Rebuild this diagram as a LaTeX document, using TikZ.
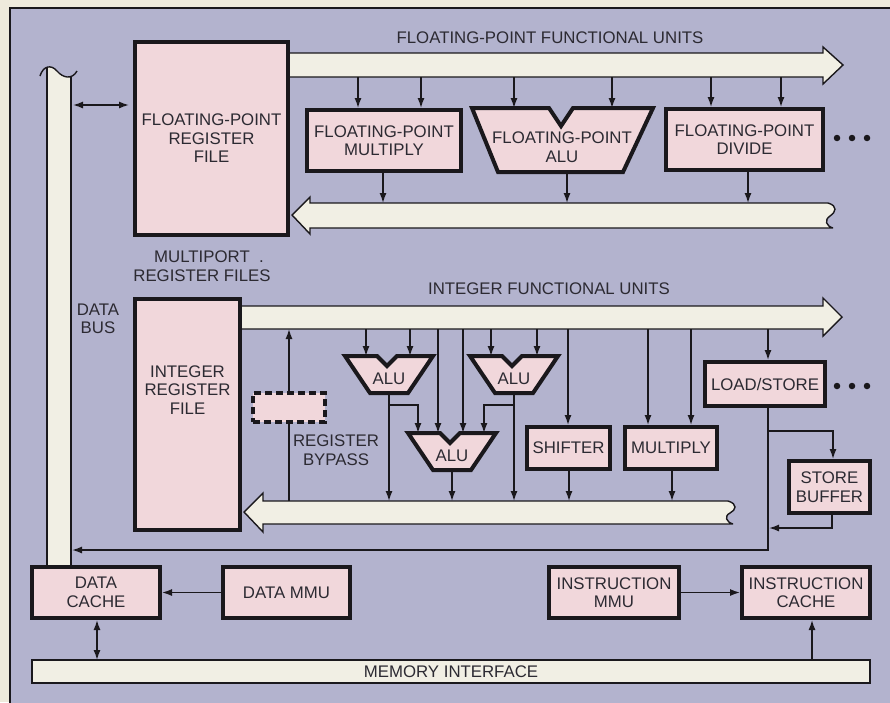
\documentclass[tikz,border=0pt]{standalone}
\usepackage{fontspec}
\setmainfont{Liberation Sans}
\usetikzlibrary{arrows.meta,calc}
\definecolor{bgc}{HTML}{EEEADC}
\definecolor{lav}{HTML}{B3B3CE}
\definecolor{pinkc}{HTML}{F1D7DB}
\definecolor{busc}{HTML}{F1EFE4}
\definecolor{linec}{HTML}{1A181C}
\definecolor{txtc}{HTML}{2C2A32}
\newcommand\lblfont{\fontsize{16.8}{18.5}\selectfont}
\begin{document}
\begin{tikzpicture}[x=1pt,y=-1pt,
  box/.style={draw=linec, line width=4pt, fill=pinkc, text=txtc, align=center, font=\lblfont, inner sep=0pt},
  lbl/.style={text=txtc, align=center, font=\lblfont, inner sep=0pt},
  bus/.style={draw=linec, line width=1.4pt, fill=busc, line join=miter},
  arr/.style={draw=linec, line width=1.4pt, -{Latex[length=10pt,width=7pt]}},
  darr/.style={draw=linec, line width=1.4pt, {Latex[length=10pt,width=7pt]}-{Latex[length=10pt,width=7pt]}},
  ln/.style={draw=linec, line width=1.4pt},
  alubox/.style={draw=linec, line width=4pt, fill=pinkc, line join=miter},
  dotc/.style={circle, fill=linec, inner sep=0pt, minimum size=6.5pt},
  alu/.pic={
    \draw[alubox] (-44,0) -- (-12,0) -- (-2,10) -- (8,0) -- (44,0) -- (19,37) -- (-19,37) -- cycle;
    \node[lbl] at (0,23) {ALU};
    \coordinate (-top) at (0,0);
    \coordinate (-bot) at (0,37);
  }]
\useasboundingbox (0,0) rectangle (890,702);
\clip (0,0) rectangle (890,702);
% background and frame
\fill[bgc] (0,0) rectangle (890,702);
\draw[line width=1.4pt, draw=linec, fill=lav] (10,8) rectangle (900,712);

% data bus (vertical)
\begin{scope}
  \clip (40,76) .. controls (43,66) and (51,64) .. (57,71) .. controls (63,78) and (72,80) .. (77,71) -- (77,580) -- (40,580) -- cycle;
  \fill[busc] (47,55) rectangle (71,566);
\end{scope}
\draw[ln] (47,67) -- (47,566);
\draw[ln] (71,77) -- (71,566);
\draw[ln] (40,76) .. controls (43,66) and (51,64) .. (57,71) .. controls (63,78) and (72,80) .. (77,71);

% floating-point buses
\draw[bus] (285,53) -- (823,53) -- (823,47) -- (843,65) -- (823,84) -- (823,77) -- (285,77);
\draw[bus] (833,228) -- (310,228) -- (310,234) -- (292,215) -- (310,197) -- (310,203) -- (828,203)
  .. controls (838,206) and (836,212) .. (830,216) .. controls (824,220) and (826,226) .. (833,228);
% integer buses
\draw[bus] (238,306) -- (823,306) -- (823,298) -- (842,317) -- (823,336) -- (823,329) -- (238,329);
\draw[bus] (733,524) -- (263,524) -- (263,532) -- (244,512) -- (263,493) -- (263,501) -- (728,501)
  .. controls (738,504) and (736,510) .. (730,513) .. controls (724,516) and (726,522) .. (733,524);

% memory interface
\node[draw=linec, line width=1.4pt, fill=busc, text=txtc, font=\lblfont, inner sep=0pt,
  minimum width=838pt, minimum height=23pt] (mem) at (451,671.5) {MEMORY INTERFACE};

% boxes
\node[box, minimum width=153pt, minimum height=193pt] (fprf) at (211.5,138.5) {FLOATING-POINT\\REGISTER\\FILE};
\node[box, minimum width=154pt, minimum height=61pt] (fpmul) at (384,140.5) {FLOATING-POINT\\MULTIPLY};
\node[box, minimum width=157pt, minimum height=61pt] (fpdiv) at (744.5,139.5) {FLOATING-POINT\\DIVIDE};
\node[box, minimum width=105pt, minimum height=231pt] (intrf) at (187.5,414.5) {};
\node[lbl] (intrftxt) at (187.5,390) {INTEGER\\REGISTER\\FILE};
\node[box, minimum width=83pt, minimum height=42pt] (shifter) at (568.5,448) {SHIFTER};
\node[box, minimum width=92pt, minimum height=42pt] (mult) at (671,448) {MULTIPLY};
\node[box, minimum width=120pt, minimum height=44pt] (ldst) at (765,384) {LOAD/STORE};
\node[box, minimum width=81pt, minimum height=52pt] (stbuf) at (829.5,487) {STORE\\BUFFER};
\node[box, minimum width=128pt, minimum height=51pt] (dcache) at (96,592.5) {DATA\\CACHE};
\node[box, minimum width=127pt, minimum height=51pt] (dmmu) at (286.5,592.5) {DATA MMU};
\node[box, minimum width=130pt, minimum height=51pt] (immu) at (614,592.5) {INSTRUCTION\\MMU};
\node[box, minimum width=128pt, minimum height=51pt] (icache) at (806,592.5) {INSTRUCTION\\CACHE};
\node[box, dashed, dash pattern=on 7pt off 4pt, minimum width=72pt, minimum height=29pt] (bypass) at (289,407.5) {};

% floating-point ALU
\draw[alubox] (472,108) -- (549,108) -- (561,126) -- (573,108) -- (653,108) -- (623,172) -- (498,172) -- cycle;
\coordinate (fpalu-top) at (562,108);
\coordinate (fpalu-bot) at (567,172);
\node[lbl] (fpalu) at (562,147) {FLOATING-POINT\\ALU};

% integer ALUs
\pic (alu1) at (389,356) {alu};
\pic (alu2) at (514,356) {alu};
\pic (alu3) at (452,433) {alu};

% labels
\node[lbl] (fptitle) at (550,38) {FLOATING-POINT FUNCTIONAL UNITS};
\node[lbl] (inttitle) at (549,289) {INTEGER FUNCTIONAL UNITS};
\node[lbl] (mptxt) at (202,266) {MULTIPORT\rlap{\ \ .}\\REGISTER FILES};
\node[lbl] (dbtxt) at (98,319) {DATA\\BUS};
\node[lbl] (bptxt) at (336,450) {REGISTER\\BYPASS};
\node[dotc] (d1) at (837,138) {};
\node[dotc] (d2) at (852,138) {};
\node[dotc] (d3) at (867,138) {};
\node[dotc] (d4) at (837,386) {};
\node[dotc] (d5) at (852,386) {};
\node[dotc] (d6) at (867,386) {};

% bus tap coordinates
\coordinate (fa1) at (358,77); \coordinate (fa2) at (421,77);
\coordinate (fa3) at (514,77); \coordinate (fa4) at (612,77);
\coordinate (fa5) at (711,77); \coordinate (fa6) at (781,77);
\coordinate (fr1) at (383,203); \coordinate (fr2) at (567,203); \coordinate (fr3) at (748,203);
\coordinate (ia1) at (366,329); \coordinate (ia2) at (410,329);
\coordinate (ia3) at (438,329); \coordinate (ia4) at (463,329);
\coordinate (ia5) at (491,329); \coordinate (ia6) at (537,329);
\coordinate (ia7) at (568,329); \coordinate (ia8) at (648,329);
\coordinate (ia9) at (691,329); \coordinate (ia10) at (768,329);
\coordinate (ir1) at (389,501); \coordinate (ir2) at (452,501); \coordinate (ir3) at (514,501);
\coordinate (ir4) at (569,501); \coordinate (ir5) at (672,501);

% FP connections
\draw[arr] (fa1) -- (fa1 |- fpmul.north);
\draw[arr] (fa2) -- (fa2 |- fpmul.north);
\draw[arr] (fa3) -- (fa3 |- fpalu-top);
\draw[arr] (fa4) -- (fa4 |- fpalu-top);
\draw[arr] (fa5) -- (fa5 |- fpdiv.north);
\draw[arr] (fa6) -- (fa6 |- fpdiv.north);
\draw[arr] (fpmul.south -| fr1) -- (fr1);
\draw[arr] (fpalu-bot) -- (fr2);
\draw[arr] (fpdiv.south -| fr3) -- (fr3);

% integer connections
\draw[arr] (ia1) -- (ia1 |- alu1-top);
\draw[arr] (ia2) -- (ia2 |- alu1-top);
\draw[arr] (ia5) -- (ia5 |- alu2-top);
\draw[arr] (ia6) -- (ia6 |- alu2-top);
\draw[arr] (ia3) -- (ia3 |- alu3-top);
\draw[arr] (ia4) -- (ia4 |- alu3-top);
\draw[arr] (ia7) -- (ia7 |- shifter.north);
\draw[arr] (ia8) -- (ia8 |- mult.north);
\draw[arr] (ia9) -- (ia9 |- mult.north);
\draw[arr] (ia10) -- (ia10 |- ldst.north);
\draw[arr] (alu1-bot) -- (ir1);
\draw[arr] (alu2-bot) -- (ir3);
\draw[arr] (alu3-bot) -- (ir2);
\coordinate (j1) at (389,405); \coordinate (j1e) at (418,405);
\coordinate (j2) at (514,405); \coordinate (j2e) at (484,405);
\draw[arr] (j1) -- (j1e) -- (j1e |- alu3-top);
\draw[arr] (j2) -- (j2e) -- (j2e |- alu3-top);
\draw[arr] (shifter.south -| ir4) -- (ir4);
\draw[arr] (mult.south -| ir5) -- (ir5);

% register bypass
\coordinate (bp) at (289,329); \coordinate (bpr) at (289,501);
\draw[arr] (bypass.north) -- (bp);
\draw[ln] (bpr) -- (bypass.south);

% load/store paths
\coordinate (lsd) at (768,550); \coordinate (dbr) at (72,550);
\draw[arr] (ldst.south -| lsd) -- (lsd) -- (dbr);
\coordinate (lsbr) at (768,431); \coordinate (sbin) at (833,431);
\draw[arr] (lsbr) -- (sbin) -- (sbin |- stbuf.north);
\coordinate (sbout) at (832,528); \coordinate (sbret) at (769,528);
\draw[arr] (stbuf.south -| sbout) -- (sbout) -- (sbret);

% data bus <-> FP register file
\coordinate (dbfp) at (73,105);
\draw[darr, shorten >=4pt] (dbfp) -- (dbfp -| fprf.west);

% memory side
\draw[arr] (dmmu.west) -- (dcache.east);
\draw[arr] (immu.east) -- (icache.west);
\coordinate (mi1) at (97,660); \coordinate (mi2) at (812,660);
\draw[darr] (dcache.south -| mi1) -- (mi1);
\draw[arr] (mi2) -- (mi2 |- icache.south);
\end{tikzpicture}
\end{document}
